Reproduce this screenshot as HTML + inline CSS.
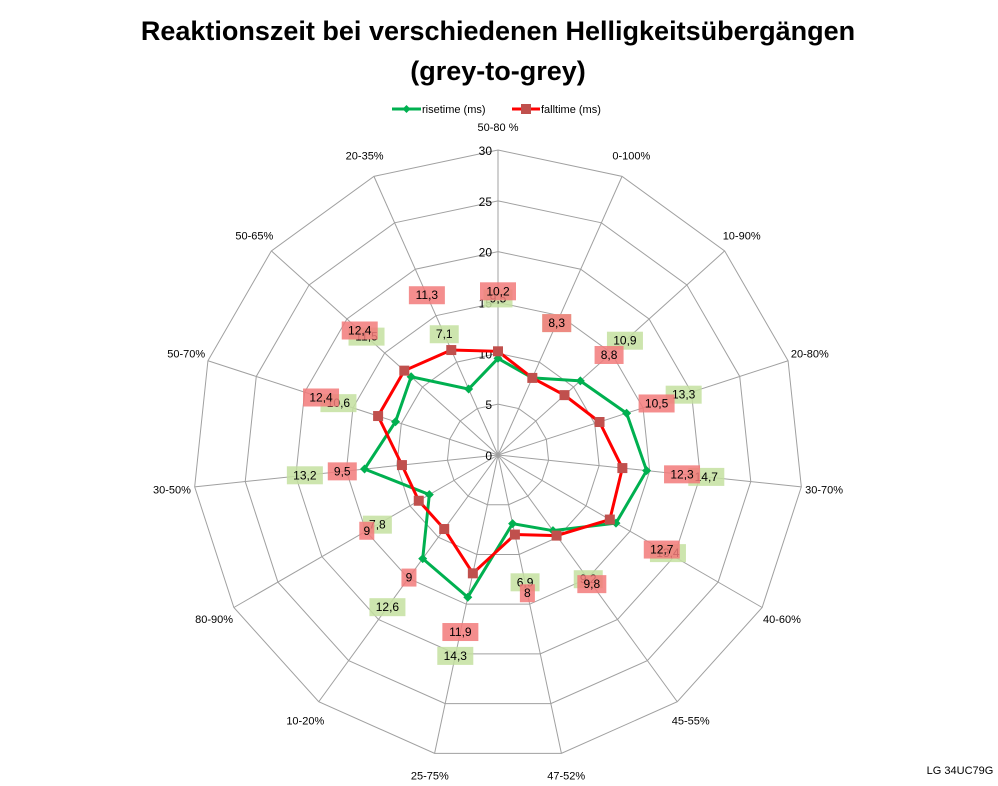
<!DOCTYPE html>
<html><head><meta charset="utf-8"><style>
body{margin:0;background:#fff;font-family:"Liberation Sans",sans-serif}
#c{position:relative;width:998px;height:786px;overflow:hidden}
</style></head><body>
<div id="c">
<svg id="s" width="998" height="786">
<text x="498" y="40" text-anchor="middle" font-size="27" font-weight="bold">Reaktionszeit bei verschiedenen Helligkeitsübergängen</text>
<text x="498" y="80" text-anchor="middle" font-size="27" font-weight="bold">(grey-to-grey)</text>
<g font-size="11">
<g><line x1="392" y1="109" x2="421" y2="109" stroke="#00b050" stroke-width="3"/><path d="M406.5 105 L410.5 109 L406.5 113 L402.5 109Z" fill="#00b050"/><text x="422" y="113">risetime (ms)</text></g>
<g><line x1="512" y1="109" x2="540" y2="109" stroke="#ff0000" stroke-width="3"/><rect x="521" y="104" width="10" height="10" fill="#c0504d"/><text x="541" y="113">falltime (ms)</text></g>
</g>
<text x="960" y="774" text-anchor="middle" font-size="11">LG 34UC79G</text>
</svg>
</div>
<script>
const categories=["50-80 %","0-100%","10-90%","20-80%","30-70%","40-60%","45-55%","47-52%","25-75%","10-20%","80-90%","30-50%","50-70%","50-65%","20-35%"];
const riseValues=[9.5,8.3,10.9,13.3,14.7,13.4,9.2,6.9,14.3,12.6,7.8,13.2,10.6,11.5,7.1];
const fallValues=[10.2,8.3,8.8,10.5,12.3,12.7,9.8,8,11.9,9,9,9.5,12.4,12.4,11.3];
const tickValues=[0,5,10,15,20,25,30];
const NS="http://www.w3.org/2000/svg";
const svg=document.getElementById('s');
const cx=498,cy=455,R=305,maxV=30;
const n=categories.length;
function ang(i){return -Math.PI/2+i*2*Math.PI/n;}
function pt(i,v){const r=v/maxV*R;return [cx+r*Math.cos(ang(i)),cy+r*Math.sin(ang(i))];}
function mk(t,a,p){const e=document.createElementNS(NS,t);for(const k in a)e.setAttribute(k,a[k]);(p||svg).appendChild(e);return e;}
const grid=mk('g',{});


tickValues.slice(1).forEach(t=>{
  const pts=categories.map((c,i)=>pt(i,t).join(',')).join(' ');
  const pg=mk('polygon',{points:pts,fill:'none',stroke:'#a0a0a0','stroke-width':1},grid);
  
  
});
categories.forEach((c,i)=>{
  const [x,y]=pt(i,maxV);
  const l=mk('line',{x1:cx,y1:cy,x2:x,y2:y,stroke:'#a0a0a0'},grid);
  
  
  const [lx,ly]=pt(i,maxV*1.075);
  const tx=mk('text',{x:lx,y:ly+4,'text-anchor':'middle','font-size':11});
  tx.textContent=c;
  
  
});
tickValues.forEach(t=>{
  const [x,y]=pt(0,t);
  const tx=mk('text',{x:x-6,y:y+5,'text-anchor':'end','font-size':12});
  tx.textContent=t;
  
  
});
function series(vals,color,name,marker,boxColor){
  const g=mk('g',{});
  
  
  const pts=vals.map((v,i)=>pt(i,v));
  mk('polygon',{points:pts.map(p=>p.join(',')).join(' '),fill:'none',stroke:color,'stroke-width':3},g);
  pts.forEach((p,i)=>{
    let m;
    if(marker==='d') m=mk('path',{d:`M${p[0]} ${p[1]-4.5}L${p[0]+4.5} ${p[1]}L${p[0]} ${p[1]+4.5}L${p[0]-4.5} ${p[1]}Z`,fill:color},g);
    else m=mk('rect',{x:p[0]-5,y:p[1]-5,width:10,height:10,fill:'#c0504d'},g);
    
    
  });
  return pts;
}
function labels(vals,name,boxColor){
  vals.forEach((v,i)=>{
    const r=v/maxV*R+60;
    const x=cx+r*Math.cos(ang(i)),y=cy+r*Math.sin(ang(i));
    const s=String(v).replace('.',',');
    const w=s.length*7+8;
    const g=mk('g',{});
    
    
    mk('rect',{x:x-w/2,y:y-9,width:w,height:18,fill:boxColor,opacity:0.85},g);
    const t=mk('text',{x:x,y:y+4,'text-anchor':'middle','font-size':12},g);
    t.textContent=s;
  });
}
series(riseValues,'#00b050','risetime-series','d');
series(fallValues,'#ff0000','falltime-series','s');
labels(riseValues,'risetime','#c4e0a0');
labels(fallValues,'falltime','#f27a7a');
</script>
</body></html>
